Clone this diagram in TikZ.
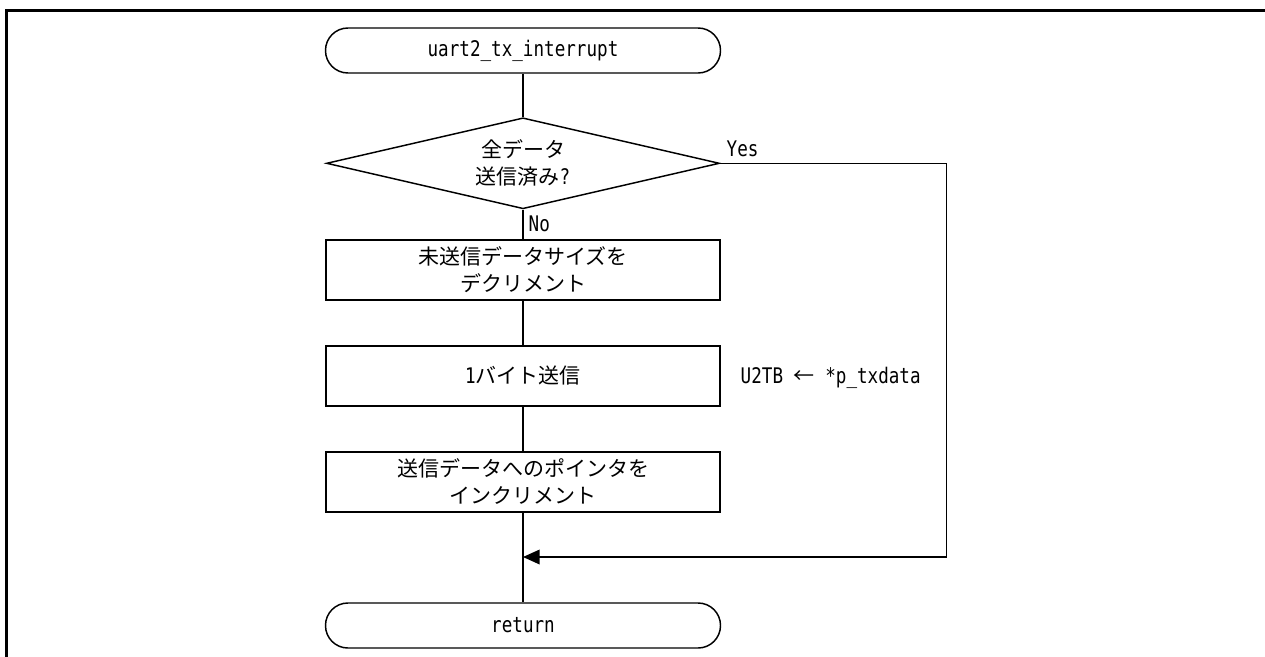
\documentclass[tikz,border=0pt]{standalone}
\usepackage{fontspec}
\usepackage{graphicx}
\usetikzlibrary{shapes.geometric,arrows.meta}
\newfontfamily\jpfont{Noto Sans CJK JP}
\newfontfamily\latfont{DejaVu Sans Mono}
% half-width Latin, drawn tall and narrow
\newcommand\hw[1]{{\latfont\fontsize{13.2}{20}\selectfont\scalebox{1}[1.22]{#1}}}
\newcommand\jp{\jpfont\fontsize{15.75}{20.25}\selectfont}
\begin{document}
\begin{tikzpicture}[x=0.75pt,y=-0.75pt,
  line width=1.1pt,
  every node/.style={inner sep=0pt, font=\jp},
  term/.style={draw, rectangle, rounded corners=16.8pt, minimum width=296.25pt, minimum height=33.75pt},
  proc/.style={draw, rectangle, minimum width=295.5pt, minimum height=45pt, align=center},
  cond/.style={draw, diamond, aspect=4.32, minimum width=294.75pt, minimum height=68.25pt, align=center},
  flow/.style={-{Triangle[length=12.5pt,width=11pt]}},
  lbl/.style={anchor=base west}
]
\useasboundingbox (0,0) rectangle (1265,657);

% outer frame (top and left edges)
\draw[line width=2.25pt] (1265,10.5) -- (6.3,10.5) -- (6.3,657);

% flowchart steps
\node[term] (start) at (523,50.5) {\hw{uart2\_tx\_interrupt}};
\node[cond] (dec) at (523,163.3) {全データ\\送信済み\hw{?}};
\node[proc] (b1) at (523,270) {未送信データサイズを\\デクリメント};
\node[proc] (b2) at (523,376) {\hw{1}バイト送信};
\node[proc] (b3) at (523,482) {送信データへのポインタを\\インクリメント};
\node[term] (ret) at (523,625.5) {\hw{return}};

% labels
\node[lbl] (yes) at (726,156) {\hw{Yes}};
\node[lbl] (no) at (528,231) {\hw{No}};
\node[lbl] (note) at (740,383) {\hw{U2TB }←\hw{ *p\_txdata}};

% main flow
\draw (start) -- (dec);
\draw (dec) -- (b1);
\draw (b1) -- (b2);
\draw (b2) -- (b3);
\draw (b3) -- (ret);

% "Yes" branch rejoining above return
\coordinate (r) at (946.5,163.3);
\coordinate (m) at (523,557);
\draw[flow] (dec.east) -- (r) |- (m);
\end{tikzpicture}
\end{document}
